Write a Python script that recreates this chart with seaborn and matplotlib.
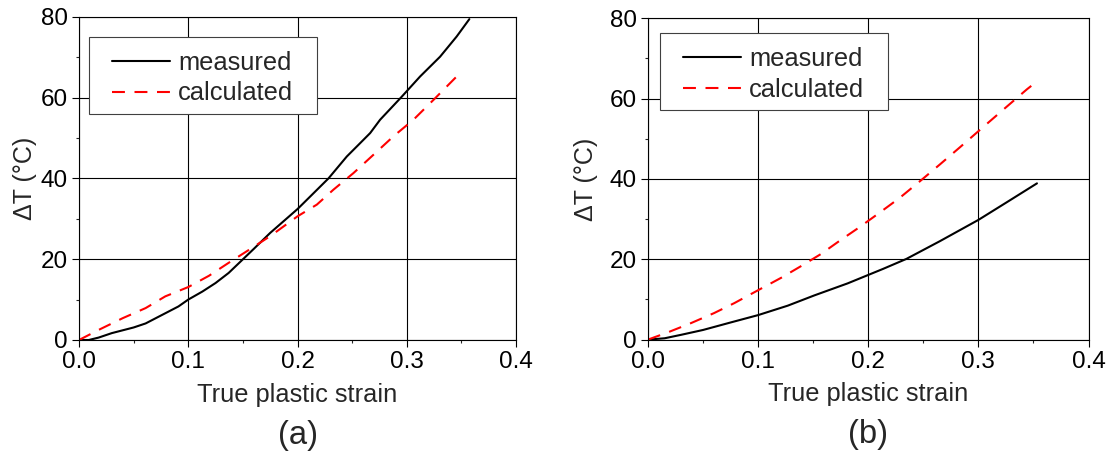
import numpy as np
import pandas as pd
import matplotlib
matplotlib.use("Agg")
import matplotlib.pyplot as plt
import seaborn as sns
from matplotlib.ticker import MultipleLocator
from matplotlib.patches import Rectangle

# ---- data ----
meas_a_x = [0.0, 0.009, 0.018, 0.03, 0.05, 0.061, 0.076, 0.091, 0.1, 0.113, 0.125, 0.137,
            0.1598, 0.175, 0.2, 0.2116, 0.2284, 0.2451, 0.2573, 0.2665, 0.2756, 0.2954,
            0.3122, 0.3305, 0.3457, 0.3573]
meas_a_y = [0.0, 0.0, 0.6, 1.7, 3.1, 4.1, 6.2, 8.3, 10.0, 12.0, 14.1, 16.6,
            22.5, 26.5, 32.4, 35.5, 40.0, 45.4, 48.7, 51.2, 54.5, 60.2,
            65.2, 70.1, 75.1, 79.4]
calc_a_x = [0.0, 0.018, 0.040, 0.061, 0.079, 0.1, 0.119, 0.137, 0.1567, 0.175, 0.2,
            0.2177, 0.2329, 0.2512, 0.2726, 0.2878, 0.3061, 0.3259, 0.3442, 0.3488]
calc_a_y = [0.0, 2.5, 5.4, 7.9, 10.8, 13.1, 15.9, 19.1, 22.5, 25.7, 30.6,
            33.5, 37.2, 41.3, 46.6, 50.4, 54.5, 59.8, 64.8, 66.0]

meas_b_x = [0.0, 0.0151, 0.0302, 0.05, 0.0755, 0.1, 0.1269, 0.151, 0.1813, 0.2134,
            0.2347, 0.265, 0.3, 0.3258, 0.3532]
meas_b_y = [0.0, 0.33, 1.2, 2.4, 4.3, 6.1, 8.45, 11.0, 14.0, 17.6,
            20.1, 24.5, 29.8, 34.2, 38.9]
calc_b_x = [0.0, 0.018, 0.039, 0.060, 0.0785, 0.1, 0.121, 0.139, 0.157, 0.1745, 0.1921,
            0.2103, 0.2286, 0.2468, 0.265, 0.2833, 0.303, 0.3228, 0.344, 0.35]
calc_b_y = [0.0, 1.8, 4.1, 6.6, 9.1, 12.3, 15.4, 18.3, 21.3, 24.7, 28.0,
            31.6, 35.3, 39.4, 43.6, 47.9, 52.6, 57.3, 62.3, 63.6]

series_labels = ["measured", "calculated"]
panel_labels = ["(a)", "(b)"]
x_label = "True plastic strain"
y_label = "ΔT (°C)"
x_ticks = [0.0, 0.1, 0.2, 0.3, 0.4]
y_ticks = [0, 20, 40, 60, 80]

sns.set_style("white")
plt.rcParams["font.family"] = ["Liberation Sans", "DejaVu Sans"]

W, H = 1111, 458
fig = plt.figure(figsize=(W / 100, H / 100), dpi=100)

layout = [
    dict(x0=79, x1=516, ytop=16.7, ybot=340, ylab_x=-0.1236, leg=(0.0641, 0.9094)),
    dict(x0=648, x1=1088.5, ytop=18.3, ybot=339.6, ylab_x=-0.141, leg=(0.0681, 0.926)),
]
panels = [
    (meas_a_x, meas_a_y, calc_a_x, calc_a_y),
    (meas_b_x, meas_b_y, calc_b_x, calc_b_y),
]

axes = []
legends = []
for i, (L, (mx, my, cx, cy)) in enumerate(zip(layout, panels)):
    ax = fig.add_axes([L["x0"] / W, 1 - L["ybot"] / H,
                       (L["x1"] - L["x0"]) / W, (L["ybot"] - L["ytop"]) / H])
    dm = pd.DataFrame({"x": mx, "y": my})
    dc = pd.DataFrame({"x": cx, "y": cy})
    sns.lineplot(data=dm, x="x", y="y", ax=ax, color="black", lw=1.5,
                 label=series_labels[0], estimator=None, sort=False)
    sns.lineplot(data=dc, x="x", y="y", ax=ax, color="#ff0000", lw=1.5,
                 label=series_labels[1], estimator=None, sort=False)
    ax.lines[1].set_dashes([6.2, 4.6])
    ax.set_xlim(0, 0.4)
    ax.set_ylim(0, 80)
    ax.set_xticks(x_ticks)
    ax.set_xticklabels([f"{t:.1f}" for t in x_ticks])
    ax.set_yticks(y_ticks)
    ax.xaxis.set_minor_locator(MultipleLocator(0.05))
    ax.yaxis.set_minor_locator(MultipleLocator(10))
    ax.tick_params(which="major", direction="out", length=5, width=0.8,
                   labelsize=17.5, pad=3, colors="black", bottom=True, left=True)
    ax.tick_params(which="minor", direction="out", length=2.5, width=0.8,
                   bottom=True, left=True)
    ax.grid(True, which="major", color="black", lw=0.8)
    for s in ax.spines.values():
        s.set_visible(True)
        s.set_color("black")
        s.set_linewidth(0.8)
    ax.set_xlabel(x_label, fontsize=18.3)
    ax.set_ylabel(y_label, fontsize=18)
    ax.xaxis.label.set_va("center")
    ax.yaxis.label.set_va("center")
    ax.xaxis.set_label_coords(0.5, -0.170)
    ax.yaxis.set_label_coords(L["ylab_x"], 0.5)
    leg = ax.legend(loc="upper left", bbox_to_anchor=L["leg"],
                    fontsize=18.4, frameon=False, borderpad=0.2,
                    handlelength=2.27, handletextpad=0.31, labelspacing=0.25,
                    borderaxespad=0)
    leg.set_zorder(6)
    ax.text(0.5, -0.294, panel_labels[i], transform=ax.transAxes, ha="center",
            va="center", fontsize=23.6)
    axes.append(ax)
    legends.append(leg)

# legend frames: padded more horizontally than vertically, as in the reference
fig.canvas.draw()
renderer = fig.canvas.get_renderer()
for ax, leg in zip(axes, legends):
    bb = leg.get_window_extent(renderer)
    inv = ax.transAxes.inverted()
    (ax0, ay0), (ax1, ay1) = inv.transform([[bb.x0 - 18, bb.y0 - 3], [bb.x1 + 19, bb.y1 + 9]])
    ax.add_patch(Rectangle((ax0, ay0), ax1 - ax0, ay1 - ay0, transform=ax.transAxes,
                           facecolor="white", edgecolor="#404040", lw=0.8,
                           zorder=5.5, clip_on=False))

fig.savefig("out.png", dpi=100)
